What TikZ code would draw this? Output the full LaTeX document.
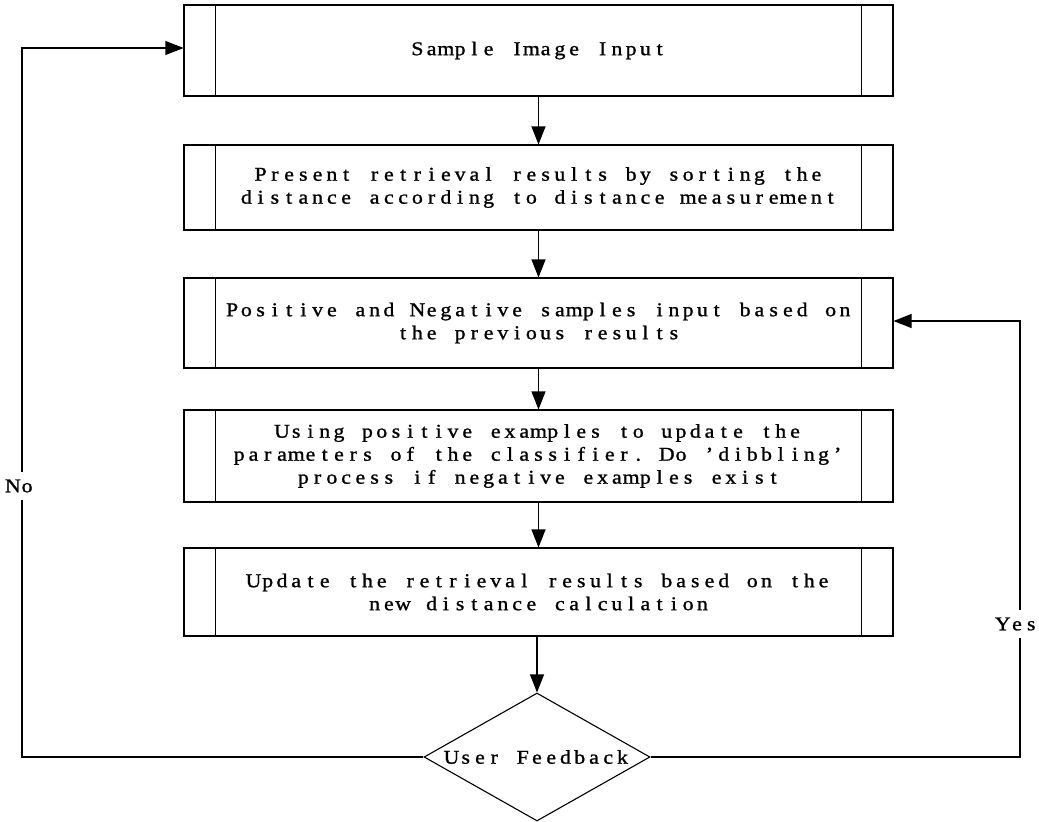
\documentclass[tikz,border=0pt]{standalone}
\usepackage{fontspec}
\setmainfont{Liberation Serif}[FakeBold=1.2, FakeStretch=1.12]
\usetikzlibrary{arrows.meta,shapes.geometric}
\ExplSyntaxOn
\NewDocumentCommand\mono{m}{ \str_map_inline:nn {#1} { \makebox[14.25pt]{##1} } }
\ExplSyntaxOff
\tikzset{
  procbox/.style={draw, line width=1.1pt, minimum width=709pt, align=center, inner sep=0pt,
    font=\fontsize{19.5}{23}\selectfont},
  link/.style={line width=1.1pt, -{Triangle[length=18pt,width=14pt]}},
  plain/.style={line width=1.1pt},
  lbl/.style={font=\fontsize{19.5}{23}\selectfont, inner sep=0pt},
  cutlbl/.style={lbl, fill=white, inner ysep=8pt}
}
\newcommand{\sidebars}[1]{%
  \draw[plain] ([xshift=32pt]#1.north west) -- ([xshift=32pt]#1.south west);
  \draw[plain] ([xshift=-32pt]#1.north east) -- ([xshift=-32pt]#1.south east);}
\begin{document}
\begin{tikzpicture}[x=1pt,y=-1pt]
\useasboundingbox (0,0) rectangle (1039,822);
\node[procbox, minimum height=91pt] (b1) at (538.5,50.5) {\mono{Sample Image Input}};
\node[procbox, minimum height=85pt] (b2) at (538.5,187.5) {\mono{Present retrieval results by sorting the}\\\mono{distance according to distance measurement}};
\node[procbox, minimum height=90pt] (b3) at (538.5,323) {\mono{Positive and Negative samples input based on}\\\mono{the previous results}};
\node[procbox, minimum height=92pt] (b4) at (538.5,456) {\mono{Using positive examples to update the}\\\mono{parameters of the classifier. Do 'dibbling'}\\\mono{process if negative examples exist}};
\node[procbox, minimum height=88pt] (b5) at (538.5,592) {\mono{Update the retrieval results based on the}\\\mono{new distance calculation}};
\sidebars{b1}\sidebars{b2}\sidebars{b3}\sidebars{b4}\sidebars{b5}
\node[draw, diamond, line width=1.1pt, minimum width=226pt, minimum height=128pt, inner sep=0pt] (d) at (537,757) {};
\node[lbl] (dl) at (d.center) {\mono{User Feedback}};
\draw[link] (b1) -- (b2);
\draw[link] (b2) -- (b3);
\draw[link] (b3) -- (b4);
\draw[link] (b4) -- (b5);
\draw[link] (b5.south -| d.north) -- (d.north);
\coordinate (nl) at (22,757);
\coordinate (nt) at (22,48);
\coordinate (yr) at (1020,757);
\coordinate (yt) at (1020,321);
\draw[link] (d.west) -- (nl) -- (nt) -- (nt -| b1.west);
\draw[link] (d.east) -- (yr) -- (yt) -- (yt -| b3.east);
\node[cutlbl] (no) at (20,486) {\mono{No}};
\node[cutlbl] (yes) at (1017,624) {\mono{Yes}};
\end{tikzpicture}
\end{document}
